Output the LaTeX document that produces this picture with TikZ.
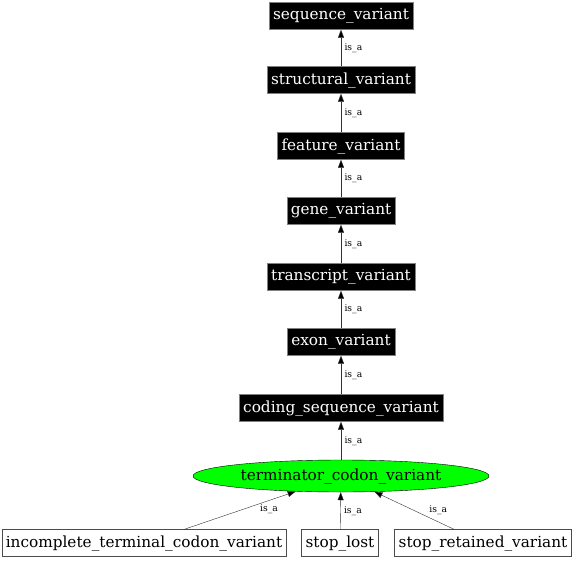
\documentclass[tikz,border=0pt]{standalone}
\usepackage{fontspec}
\setmainfont{DejaVu Serif}
\usetikzlibrary{arrows.meta, shapes.geometric}
\definecolor{termGreen}{RGB}{0, 255, 0}
\definecolor{edgeGrey}{RGB}{50, 50, 50}

\begin{document}
\begin{tikzpicture}[
    x=1pt, y=-1pt,
    % --- node styles ---
    termnode/.style={rectangle, draw=gray, fill=black, text=white, minimum height=27pt, inner xsep=4pt, font=\fontsize{15.3}{17}\selectfont},
    leafnode/.style={rectangle, draw=black!70, fill=white, minimum height=27pt, inner xsep=4pt, font=\fontsize{15.3}{17}\selectfont},
    focusnode/.style={ellipse, draw=black, fill=termGreen, minimum width=296pt, minimum height=32pt, inner sep=0pt, font=\fontsize{15.3}{17}\selectfont},
    % --- edge styles ---
    isa/.style={-{Triangle[length=8pt, width=6pt, fill=black]}, edgeGrey, thin},
    isalabel/.style={font=\fontsize{9.2}{10}\selectfont, text=black}
]
\useasboundingbox (0,0) rectangle (576,560);

% === chain of parents ===
\node[termnode] (seqvar) at (341,16) {sequence\_variant};
\node[termnode] (structvar) at (341,80) {structural\_variant};
\node[termnode] (featvar) at (341,146) {feature\_variant};
\node[termnode] (genevar) at (341,211) {gene\_variant};
\node[termnode] (transvar) at (341,277) {transcript\_variant};
\node[termnode] (exonvar) at (341,342) {exon\_variant};
\node[termnode] (cdsvar) at (341,408) {coding\_sequence\_variant};

% === the term itself ===
\node[focusnode] (termcodon) at (341,476) {terminator\_codon\_variant};

% === children ===
\node[leafnode] (incomplete) at (144,543) {incomplete\_terminal\_codon\_variant};
\node[leafnode] (stoplost) at (340,543) {stop\_lost};
\node[leafnode] (stopret) at (483,543) {stop\_retained\_variant};

% === is_a edges ===
\draw[isa] (structvar) -- node[isalabel, right] {is\_a} (seqvar);
\draw[isa] (featvar) -- node[isalabel, right] {is\_a} (structvar);
\draw[isa] (genevar) -- node[isalabel, right] {is\_a} (featvar);
\draw[isa] (transvar) -- node[isalabel, right] {is\_a} (genevar);
\draw[isa] (exonvar) -- node[isalabel, right] {is\_a} (transvar);
\draw[isa] (cdsvar) -- node[isalabel, right] {is\_a} (exonvar);
\draw[isa] (termcodon) -- node[isalabel, right] {is\_a} (cdsvar);

\draw[isa] (incomplete) -- node[isalabel, pos=0.6, xshift=18pt, yshift=-3pt] {is\_a} (termcodon);
\draw[isa] (stoplost) -- node[isalabel, right] {is\_a} (termcodon);
\draw[isa] (stopret) -- node[isalabel, pos=0.55, xshift=28pt, yshift=-2pt] {is\_a} (termcodon);

\end{tikzpicture}
\end{document}
